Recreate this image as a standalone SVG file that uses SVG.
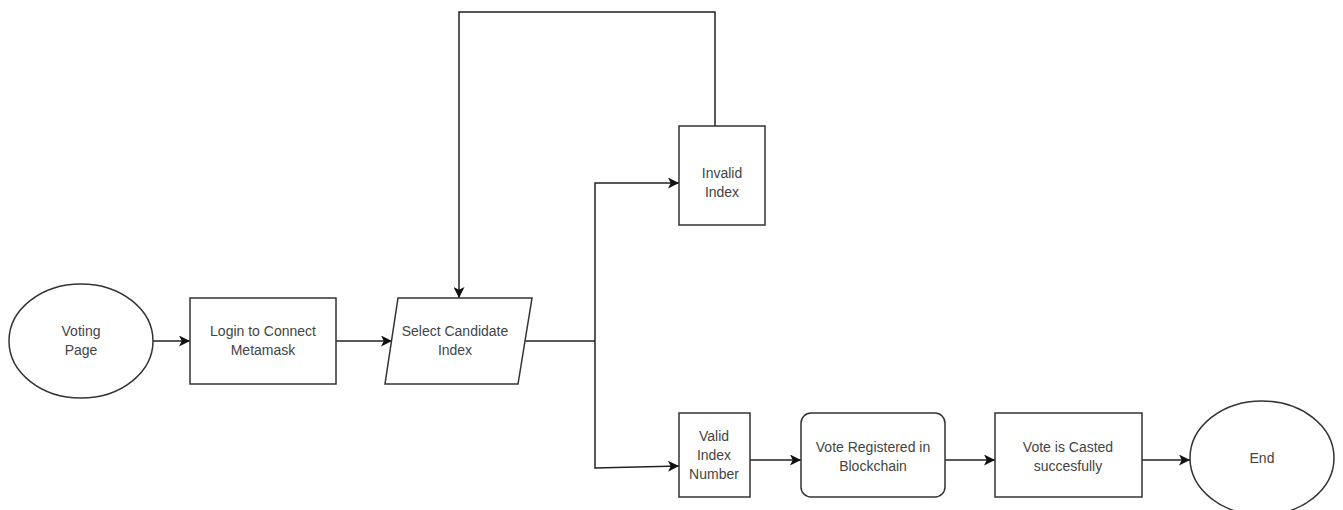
<svg xmlns="http://www.w3.org/2000/svg" width="1343" height="510" viewBox="0 0 1343 510">
<style>
.shape{fill:#fff;stroke:#333;stroke-width:1.5}
.edge{fill:none;stroke:#222;stroke-width:1.5}
text{font-family:"Liberation Sans",Arial,sans-serif;font-size:14px;fill:#444;text-anchor:middle}
</style>
<defs>
<marker id="arr" viewBox="0 0 10 10" refX="10" refY="5" markerWidth="11" markerHeight="11" markerUnits="userSpaceOnUse" orient="auto">
<path d="M0,0 L10,5 L0,10 L2.5,5 z" fill="#111"/>
</marker>
</defs>
<rect width="1343" height="510" fill="#fff"/>
<g id="connectors">
<path class="edge" d="M153,341 L190,341" marker-end="url(#arr)"/>
<path class="edge" d="M336,341 L392,341" marker-end="url(#arr)"/>
<path class="edge" d="M525,341 L595,341"/>
<path class="edge" d="M595,341 L595,183 L679,183" marker-end="url(#arr)"/>
<path class="edge" d="M595,341 L595,468 L679,466" marker-end="url(#arr)"/>
<path class="edge" d="M715,126 L715,12 L459,12 L459,298" marker-end="url(#arr)"/>
<path class="edge" d="M750,460 L801,460" marker-end="url(#arr)"/>
<path class="edge" d="M945,460 L995,460" marker-end="url(#arr)"/>
<path class="edge" d="M1142,460 L1190,460" marker-end="url(#arr)"/>
</g>
<g id="voting-page">
<ellipse class="shape" cx="81" cy="341" rx="72" ry="57"/>
<text x="81" y="336">Voting</text>
<text x="81" y="355">Page</text>
</g>
<g id="login">
<rect class="shape" x="190" y="298" width="146" height="86"/>
<text x="263" y="336">Login to Connect</text>
<text x="263" y="355">Metamask</text>
</g>
<g id="select-candidate">
<polygon class="shape" points="398,298 532,298 518,384 385,384"/>
<text x="455" y="336">Select Candidate</text>
<text x="455" y="355">Index</text>
</g>
<g id="invalid-index">
<rect class="shape" x="679" y="126" width="86" height="99"/>
<text x="722" y="178">Invalid</text>
<text x="722" y="197">Index</text>
</g>
<g id="valid-index">
<rect class="shape" x="679" y="413" width="71" height="84"/>
<text x="714" y="441">Valid</text>
<text x="714" y="460">Index</text>
<text x="714" y="479">Number</text>
</g>
<g id="vote-registered">
<rect class="shape" x="801" y="413" width="144" height="84" rx="10"/>
<text x="873" y="452">Vote Registered in</text>
<text x="873" y="471">Blockchain</text>
</g>
<g id="vote-casted">
<rect class="shape" x="995" y="413" width="147" height="84"/>
<text x="1068" y="452">Vote is Casted</text>
<text x="1068" y="471">succesfully</text>
</g>
<g id="end">
<ellipse class="shape" cx="1262" cy="458" rx="72" ry="57"/>
<text x="1262" y="463">End</text>
</g>
</svg>
